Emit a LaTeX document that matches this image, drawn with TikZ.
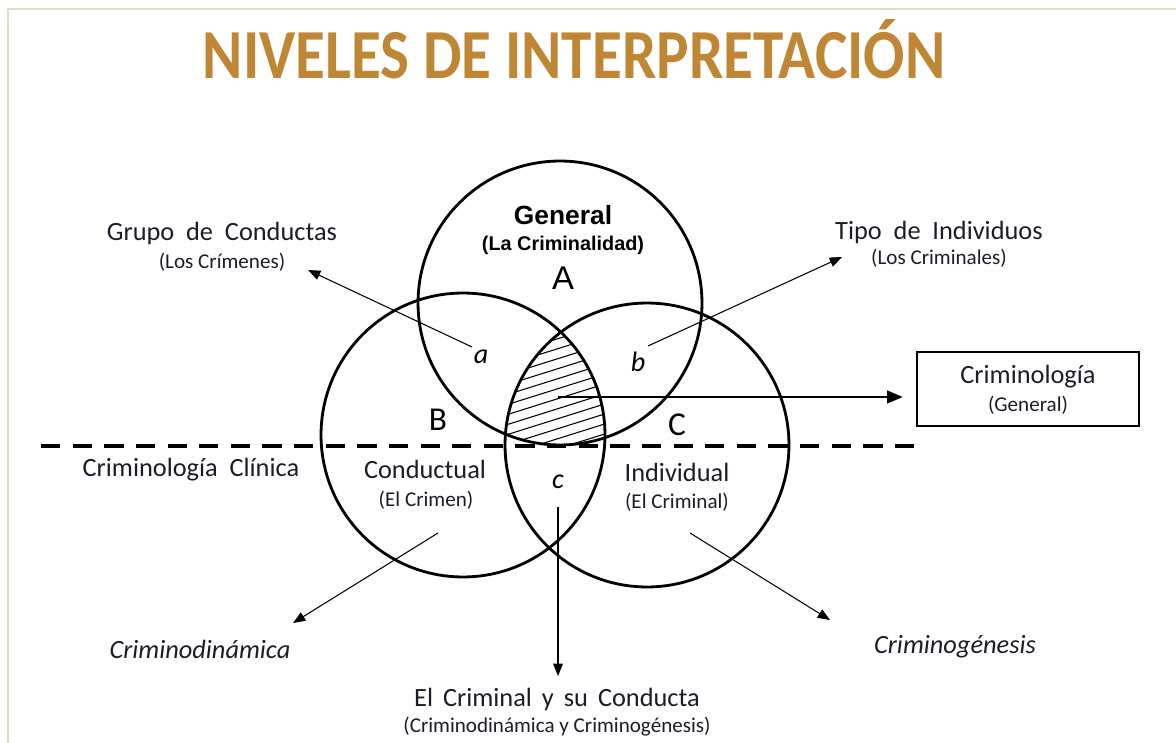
\documentclass[tikz,border=0pt]{standalone}
\usepackage{fontspec}
\setmainfont{Carlito}
\newfontfamily\arialfont{Liberation Sans}
\usetikzlibrary{arrows.meta}
\definecolor{titlegold}{RGB}{191,134,52}
\definecolor{framegreen}{RGB}{212,226,198}
\definecolor{labelink}{RGB}{28,28,40}
\newcommand\widesp{\spaceskip=0.45em plus 0.1em\relax}
\tikzset{
  venn/.style={circle, draw, line width=1.6pt, minimum size=5.68cm, inner sep=0pt},
  lbl/.style={text=labelink, inner sep=0pt, font=\fontsize{15}{18}\selectfont},
  sublbl/.style={text=labelink, inner sep=0pt, font=\fontsize{12}{14}\selectfont},
  widelbl/.style={lbl, execute at begin node=\widesp},
  letter/.style={inner sep=0pt, font=\fontsize{16}{18}\selectfont\itshape},
  region/.style={inner sep=0pt, font=\fontsize{19}{22}\selectfont},
  pointer/.style={-{Triangle[length=7pt,width=5.5pt]}, line width=0.6pt},
}
\begin{document}
\begin{tikzpicture}[x=0.02cm, y=-0.02cm]
\useasboundingbox (0,0) rectangle (1176,743);
\draw[framegreen, line width=1.2pt] (8,743) -- (8,9) -- (1176,9);
\node[text=titlegold, font=\fontsize{40}{48}\selectfont\bfseries] (title) at (574,49) {\scalebox{0.87}[1]{NIVELES DE INTERPRETACIÓN}};

% the three sets
\node[venn] (A) at (560,303) {};
\node[venn] (B) at (463,435) {};
\node[venn] (C) at (647,445) {};
\begin{scope}
\clip (A.center) circle[radius=2.84cm];
\clip (B.center) circle[radius=2.84cm];
\clip (C.center) circle[radius=2.84cm];
\foreach \k in {0,...,16}
  \draw[line width=0.6pt] (490,330+10*\k) -- ++(140,-44);
\end{scope}

\coordinate (dashL) at (41,446);
\coordinate (dashR) at (917,446);
\draw[line width=2.6pt, dash pattern=on 11pt off 7pt] (dashL) -- (dashR);

\node[font=\arialfont\bfseries\fontsize{15}{18}\selectfont, inner sep=0pt] (general) at (563,215) {General};
\node[font=\arialfont\bfseries\fontsize{11.3}{13}\selectfont, inner sep=0pt] (crimty) at (563,245) {(La Criminalidad)};
\node[font=\arialfont\fontsize{18.7}{22}\selectfont, inner sep=0pt] (labA) at (563,278) {A};
\node[region] (labB) at (438,420) {B};
\node[region] (labC) at (677,425) {C};
\node[letter] (la) at (481,357) {a};
\node[letter] (lb) at (638,362) {b};
\node[letter] (lc) at (558,482) {c};

\node[lbl] (cond) at (425,469) {Conductual};
\node[sublbl] (crimen) at (426,500) {(El Crimen)};
\node[lbl] (indiv) at (677,472) {Individual};
\node[sublbl] (criminal) at (677,502) {(El Criminal)};
\node[widelbl] (clinica) at (191,470) {Criminología Clínica};

\node[widelbl] (grupo) at (222,233) {Grupo de Conductas};
\node[sublbl] (crimenes) at (222,262) {(Los Crímenes)};
\node[widelbl] (tipo) at (939,232) {Tipo de Individuos};
\node[sublbl] (criminales) at (939,258) {(Los Criminales)};

\node[draw, line width=1pt, minimum width=4.44cm, minimum height=1.48cm] (box) at (1028,389) {};
\node[lbl] (crimgen) at (1028,377) {Criminología};
\node[sublbl] (gen) at (1028,405) {(General)};

\node[lbl, font=\fontsize{15}{18}\selectfont\itshape] (dinamica) at (200,649) {Criminodinámica};
\node[lbl, font=\fontsize{15}{18}\selectfont\itshape] (genesis) at (955,647) {Criminogénesis};
\node[lbl, execute at begin node={\spaceskip=0.38em plus 0.1em\relax}] (ambos) at (557,699) {El Criminal y su Conducta};
\node[sublbl] (ambossub) at (557,727) {(Criminodinámica y Criminogénesis)};

% connectors
\coordinate (aout) at (472,347);
\coordinate (ain) at (308,270);
\coordinate (bout) at (648,346);
\coordinate (bin) at (842,257);
\coordinate (lout) at (438,533);
\coordinate (lin) at (293,623);
\coordinate (rout) at (690,533);
\coordinate (rin) at (830,620);
\coordinate (cout) at (558,507);
\coordinate (cin) at (558,676);
\coordinate (core) at (558,397);
\coordinate (boxin) at (903,397);
\draw[pointer] (aout) -- (ain);
\draw[pointer] (bout) -- (bin);
\draw[pointer] (lout) -- (lin);
\draw[pointer] (rout) -- (rin);
\draw[pointer] (cout) -- (cin);
\draw[-{Triangle[length=9pt,width=7pt]}, line width=1.6pt] (core) -- (boxin);
\end{tikzpicture}
\end{document}
